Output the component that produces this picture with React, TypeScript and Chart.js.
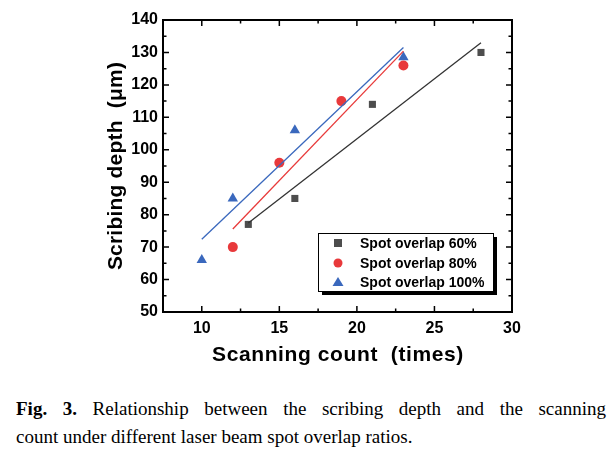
import React, { useEffect, useRef } from "react";
import { Chart, registerables } from "chart.js";
Chart.register(...registerables);

const labels = ["Spot overlap 60%", "Spot overlap 80%", "Spot overlap 100%"];
const count60 = [13, 16, 21, 28];
const depth60 = [77, 85, 114, 130];
const count80 = [12, 15, 19, 23];
const depth80 = [70, 96, 115, 126];
const count100 = [10, 12, 16, 23];
const depth100 = [66, 85, 106, 128.5];
// fitted line endpoints
const fit60X = [13, 28];
const fit60Y = [77.4, 133];
const fit80X = [12, 23];
const fit80Y = [75.6, 130.4];
const fit100X = [10, 23];
const fit100Y = [72.4, 131.5];
const xTicks = [10, 15, 20, 25, 30];
const yTicks = [50, 60, 70, 80, 90, 100, 110, 120, 130, 140];

const colors = ["#4d4d4d", "#e8393b", "#3a68bd"];
const lineColors = ["#333333", "#e83a3a", "#3a68bd"];

const pts = (xs: number[], ys: number[]) => xs.map((x, i) => ({ x, y: ys[i] }));

const framePlugin = {
  id: "frame",
  afterDraw(chart: any) {
    const { ctx, chartArea: a, scales } = chart;
    const xs = scales.x, ys = scales.y;
    ctx.save();
    ctx.strokeStyle = "#000";
    ctx.lineWidth = 1.5;
    for (let v = 7.5; v <= 30.01; v += 2.5) {
      const px = xs.getPixelForValue(v);
      const major = Math.abs(v % 5) < 0.01;
      const len = major ? 6 : 3.5;
      ctx.beginPath();
      ctx.moveTo(px, a.bottom); ctx.lineTo(px, a.bottom - len);
      ctx.moveTo(px, a.top); ctx.lineTo(px, a.top + len);
      ctx.stroke();
    }
    for (let v = 50; v <= 140.01; v += 5) {
      const py = ys.getPixelForValue(v);
      const major = Math.abs(v % 10) < 0.01;
      const len = major ? 6 : 3.5;
      ctx.beginPath();
      ctx.moveTo(a.left, py); ctx.lineTo(a.left + len, py);
      ctx.moveTo(a.right, py); ctx.lineTo(a.right - len, py);
      ctx.stroke();
    }
    ctx.lineWidth = 2;
    ctx.strokeRect(a.left, a.top, a.right - a.left, a.bottom - a.top);

    // titles
    ctx.fillStyle = "#000";
    ctx.font = "bold 21px Arial, 'Liberation Sans', sans-serif";
    ctx.textAlign = "center";
    ctx.textBaseline = "middle";
    (ctx as any).letterSpacing = "0.6px";
    ctx.fillText("Scanning count  (times)", 338, 355);
    ctx.save();
    ctx.translate(116, (a.top + a.bottom) / 2);
    ctx.rotate(-Math.PI / 2);
    (ctx as any).letterSpacing = "0.2px";
    ctx.fillText("Scribing depth  (\u03bcm)", 0, 0);
    ctx.restore();
    (ctx as any).letterSpacing = "0px";

    // legend
    const bx = 318, by = 233, bw = 175, bh = 58;
    ctx.fillStyle = "#000";
    ctx.fillRect(bx + 4, by + 4, bw, bh);
    ctx.fillStyle = "#fff";
    ctx.fillRect(bx, by, bw, bh);
    ctx.lineWidth = 1;
    ctx.strokeStyle = "#000";
    ctx.strokeRect(bx + 0.5, by + 0.5, bw, bh);
    ctx.font = "bold 14px Arial, 'Liberation Sans', sans-serif";
    ctx.textAlign = "left";
    const rows = [243, 263, 282];
    rows.forEach((ry, i) => {
      ctx.fillStyle = colors[i];
      const mx = 338;
      if (i === 0) ctx.fillRect(mx - 4, ry - 4, 8, 8);
      else if (i === 1) { ctx.beginPath(); ctx.arc(mx, ry, 4.5, 0, Math.PI * 2); ctx.fill(); }
      else { ctx.beginPath(); ctx.moveTo(mx, ry - 5); ctx.lineTo(mx + 5.5, ry + 4); ctx.lineTo(mx - 5.5, ry + 4); ctx.closePath(); ctx.fill(); }
      ctx.fillStyle = "#000";
      ctx.fillText(labels[i], 360, ry + 1);
    });
    ctx.restore();
  },
};

export default function App() {
  const ref = useRef<HTMLCanvasElement>(null);
  useEffect(() => {
    const c = new Chart(ref.current!, {
      type: "scatter",
      data: {
        datasets: [
          { data: pts(fit60X, fit60Y), showLine: true, pointRadius: 0, borderColor: lineColors[0], borderWidth: 1.3 },
          { data: pts(fit80X, fit80Y), showLine: true, pointRadius: 0, borderColor: lineColors[1], borderWidth: 1.3 },
          { data: pts(fit100X, fit100Y), showLine: true, pointRadius: 0, borderColor: lineColors[2], borderWidth: 1.3 },
          { data: pts(count60, depth60), pointStyle: "rect", pointRadius: 5, backgroundColor: colors[0], borderColor: colors[0], borderWidth: 0 },
          { data: pts(count80, depth80), pointStyle: "circle", pointRadius: 5, backgroundColor: colors[1], borderColor: colors[1], borderWidth: 0 },
          { data: pts(count100, depth100), pointStyle: "triangle", pointRadius: 6, backgroundColor: colors[2], borderColor: colors[2], borderWidth: 0 },
        ] as any,
      },
      options: {
        animation: false,
        responsive: false,
        layout: { padding: { top: 20, right: 103, left: 0, bottom: 0 } },
        plugins: { legend: { display: false }, tooltip: { enabled: false } },
        scales: {
          x: {
            type: "linear", min: 7.5, max: 30,
            afterBuildTicks: (s: any) => { s.ticks = xTicks.map((v) => ({ value: v })); },
            afterFit: (s: any) => { s.height = 63; },
            grid: { display: false, drawTicks: false },
            border: { display: false },
            ticks: { color: "#000", padding: 7, font: { family: "Arial, 'Liberation Sans', sans-serif", size: 16, weight: "bold" } },
          },
          y: {
            type: "linear", min: 50, max: 140,
            afterBuildTicks: (s: any) => { s.ticks = yTicks.map((v) => ({ value: v })); },
            afterFit: (s: any) => { s.width = 163; },
            grid: { display: false, drawTicks: false },
            border: { display: false },
            ticks: { color: "#000", padding: 5, font: { family: "Arial, 'Liberation Sans', sans-serif", size: 16, weight: "bold" } },
          },
        },
      } as any,
      plugins: [framePlugin],
    });
    return () => c.destroy();
  }, []);
  const capStyle: any = {
    fontFamily: "'Liberation Serif', 'Times New Roman', serif", fontSize: 19, lineHeight: "28px", color: "#000", whiteSpace: "nowrap",
  };
  return (
    <div style={{ position: "absolute", left: 0, top: 0, width: 615, height: 463, background: "#fff" }}>
      <canvas ref={ref} width={615} height={375} style={{ display: "block" }} />
      <div style={{ position: "absolute", left: 16, top: 395, width: 590 }}>
        <div style={{ ...capStyle, textAlign: "justify", textAlignLast: "justify" }}>
          <b>Fig. 3.</b> Relationship between the scribing depth and the scanning
        </div>
        <div style={{ ...capStyle, wordSpacing: "0px" }}>
          count under different laser beam spot overlap ratios.
        </div>
      </div>
    </div>
  );
}
